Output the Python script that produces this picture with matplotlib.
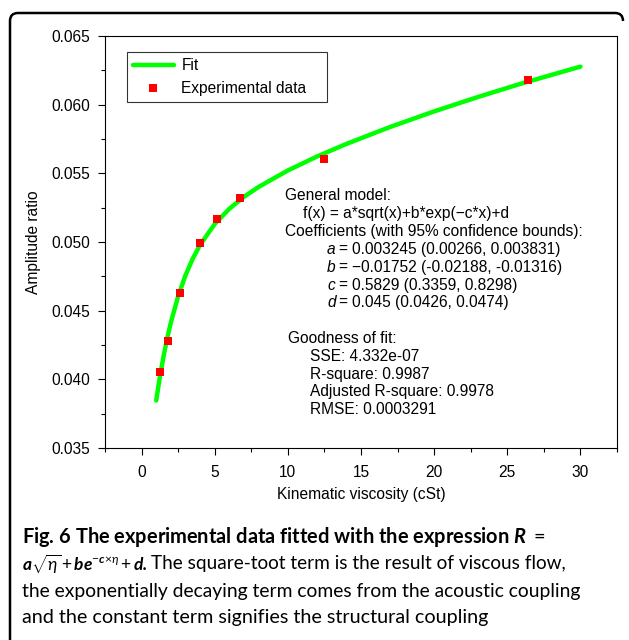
import matplotlib
matplotlib.use('Agg')
import matplotlib.pyplot as plt
from matplotlib.path import Path
from matplotlib.patches import PathPatch
from matplotlib.ticker import MultipleLocator, FormatStrFormatter

plt.rcParams['font.family'] = ['Liberation Sans', 'DejaVu Sans']
plt.rcParams['mathtext.fontset'] = 'custom'
plt.rcParams['mathtext.rm'] = 'Lato'
plt.rcParams['mathtext.it'] = 'Lato:italic'
plt.rcParams['mathtext.bf'] = 'Lato:italic:bold'

# experimental points
visc = [1.25, 1.8, 2.6, 4.0, 5.15, 6.75, 12.5, 26.4]
amp = [0.04055, 0.04277, 0.04628, 0.04994, 0.05164, 0.05322, 0.05603, 0.06178]

# fitted curve
fit_x = [1, 1.25, 1.5, 1.75, 2, 2.5, 3, 3.5, 4, 5, 6, 7, 8, 10, 12, 14, 17, 20, 23, 26, 30]
fit_y = [0.03846, 0.04017, 0.04166, 0.04298, 0.04413, 0.04605, 0.04757, 0.04879, 0.04979,
         0.05131, 0.05242, 0.05329, 0.05401, 0.05521, 0.05623, 0.05714, 0.05838, 0.05951,
         0.06056, 0.06155, 0.06277]

model_lines = ["General model:",
               "f(x) = a*sqrt(x)+b*exp(\u2212c*x)+d",
               "Coefficients (with 95% confidence bounds):"]
coef_names = ["a", "b", "c", "d"]
coef_vals = ["0.003245 (0.00266, 0.003831)",
             "\u22120.01752 (-0.02188, -0.01316)",
             "0.5829 (0.3359, 0.8298)",
             "0.045 (0.0426, 0.0474)"]
gof_title = "Goodness of fit:"
gof_lines = ["SSE: 4.332e-07", "R-square: 0.9987",
             "Adjusted R-square: 0.9978", "RMSE: 0.0003291"]

caption_title = r"Fig. 6 The experimental data fitted with the expression $\mathbf{R}\ =$"
caption_math = (r"$\mathbf{a}\sqrt{\eta}\,{+}\,\mathbf{be}^{{-}\mathbf{c}{\times}\eta}"
                r"\,{+}\,\mathbf{d.}$")
caption_lines = ["The square-toot term is the result of viscous flow,",
                 "the exponentially decaying term comes from the acoustic coupling",
                 "and the constant term signifies the structural coupling"]

W, H = 629, 640
fig = plt.figure(figsize=(W / 100, H / 100), dpi=100)


def fx(x):
    return x / W


def fy(y):
    return 1 - y / H


ax = fig.add_axes([fx(105), fy(448), fx(617) - fx(105), fy(36) - fy(448)])
fs = 11.2

ax.plot(fit_x, fit_y, color='#00ff00', lw=3.2, solid_capstyle='round', label='Fit', zorder=2)
ax.plot(visc, amp, 's', color='#ff0000', ms=6, mew=0, label='Experimental data', zorder=3)

ax.set_xlim(-2.5, 32.5)
ax.set_ylim(0.035, 0.065)
ax.xaxis.set_major_locator(MultipleLocator(5))
ax.xaxis.set_minor_locator(MultipleLocator(2.5))
ax.yaxis.set_major_locator(MultipleLocator(0.005))
ax.yaxis.set_minor_locator(MultipleLocator(0.0025))
ax.yaxis.set_major_formatter(FormatStrFormatter('%.3f'))
ax.tick_params(which='both', direction='out', top=False, right=False, width=0.8, labelsize=fs)
ax.tick_params(which='major', length=5)
ax.tick_params(which='minor', length=3)
ax.tick_params(axis='y', pad=5.5)
ax.tick_params(axis='x', pad=7.5)
for s in ax.spines.values():
    s.set_linewidth(0.8)

ax.set_xlabel("Kinematic viscosity (cSt)", fontsize=fs, labelpad=5)
ax.set_ylabel("Amplitude ratio", fontsize=fs, labelpad=8)

leg = ax.legend(loc='upper left', bbox_to_anchor=(0.043, 0.9612, 0.39, 0), mode='expand',
                borderaxespad=0, borderpad=0.4, handlelength=2.6, handletextpad=0.5,
                labelspacing=0.5, fontsize=fs, frameon=True, fancybox=False, numpoints=1)
leg.get_frame().set_edgecolor('black')
leg.get_frame().set_linewidth(0.8)

# fit report
y = 196
for i, t in enumerate(model_lines):
    fig.text(fx(303 if i == 1 else 285), fy(y), t, fontsize=fs, va='center')
    y += 17.8
for n, v in zip(coef_names, coef_vals):
    fig.text(fx(327), fy(y), n, fontsize=fs, style='italic', va='center')
    fig.text(fx(338), fy(y), "=", fontsize=fs, va='center')
    fig.text(fx(352), fy(y), v, fontsize=fs, va='center')
    y += 17.8
y += 17.8
fig.text(fx(288), fy(y), gof_title, fontsize=fs, va='center')
for t in gof_lines:
    y += 17.8
    fig.text(fx(310), fy(y), t, fontsize=fs, va='center')

# caption
fig.text(fx(22), fy(537), caption_title, fontsize=14.4, family='Lato', weight='bold', va='center')
fig.text(fx(22), fy(564), caption_math, fontsize=12.5, family='Lato', va='center')
fig.text(fx(151), fy(564), caption_lines[0], fontsize=13.7, family='Lato', va='center')
fig.text(fx(22), fy(591), caption_lines[1], fontsize=13.9, family='Lato', va='center')
fig.text(fx(22), fy(618), caption_lines[2], fontsize=14.2, family='Lato', va='center')

# figure frame: left and top edges with rounded corners
verts = [(10, 640), (10, 21), (10, 13), (18, 13), (615, 13), (623, 13), (623, 21)]
codes = [Path.MOVETO, Path.LINETO, Path.CURVE3, Path.CURVE3, Path.LINETO, Path.CURVE3, Path.CURVE3]
frame = PathPatch(Path([(fx(a), fy(b)) for a, b in verts], codes), transform=fig.transFigure,
                  fill=False, lw=1.8, edgecolor='black')
fig.patches.append(frame)

fig.savefig('out.png', dpi=100)
